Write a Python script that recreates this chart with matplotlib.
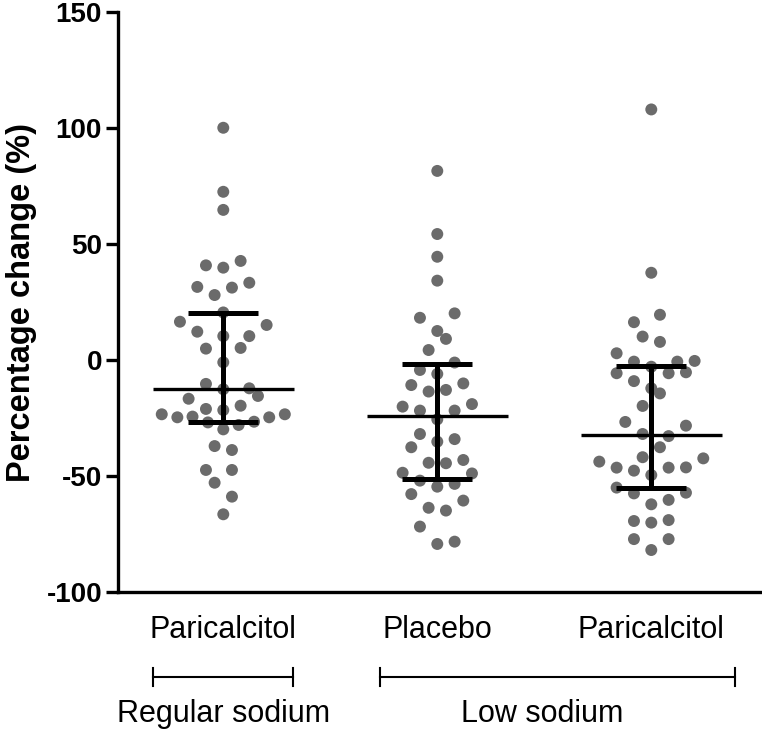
import matplotlib
matplotlib.use("Agg")
import matplotlib.pyplot as plt
import numpy as np

plt.rcParams["font.family"] = ["Liberation Sans", "DejaVu Sans"]

# values (% change), with swarm offsets in half-dot slots
GROUPS = ["Paricalcitol", "Placebo", "Paricalcitol"]

reg_pari = [100.1, 72.5, 64.7, 42.7, 40.8, 39.8, 33.3, 31.5, 31.2, 28.0, 20.5,
            16.5, 15.1, 12.2, 10.3, 10.3, 5.2, 4.9, -1.0, -10.3, -12.2, -12.6,
            -15.5, -16.7, -19.7, -21.1, -21.6, -23.4, -23.4, -24.4, -24.7, -24.7,
            -26.6, -26.9, -28.0, -29.9, -37.1, -38.8, -47.4, -47.4, -52.9, -58.9,
            -66.5]
reg_pari_swarm = [0, 0, 0, 2, -2, 0, 3, -3, 1, -1, 0, -5, 5, -3, 0, 3, 2, -2, 0,
                  -2, 3, 0, 4, -4, 2, -2, 0, -7.1, 7.1, -3.55, -5.3, 5.3, 3.55,
                  -1.77, 1.77, 0, -1, 1, -2, 1, -1, 1, 0]

low_plac = [81.5, 54.3, 44.5, 34.2, 20.1, 18.2, 12.5, 9.1, 4.3, -1.1, -4.3, -6.0,
            -10.1, -10.8, -12.9, -13.6, -19.0, -20.1, -21.8, -21.8, -25.6, -31.9,
            -34.1, -35.2, -37.6, -43.1, -44.3, -44.5, -48.6, -48.9, -52.0, -53.4,
            -54.6, -57.8, -60.6, -63.7, -64.9, -71.8, -78.3, -79.3]
low_plac_swarm = [0, 0, 0, 0, 2, -2, 0, 1, -1, 2, -2, 0, 3, -3, 1, -1, 4, -4, -2,
                  2, 0, -2, 2, 0, -3, 3, -1, 1, -4, 4, -2, 2, 0, -3, 3, -1, 1, -2,
                  2, 0]

low_pari = [108.0, 37.6, 19.5, 16.3, 10.1, 7.8, 2.9, -0.4, -0.7, -0.7, -2.9, -5.3,
            -5.7, -5.7, -9.1, -12.2, -14.4, -19.8, -26.7, -28.3, -31.9, -32.8,
            -37.6, -41.9, -42.4, -43.8, -46.3, -46.4, -46.4, -47.7, -49.6, -55.0,
            -57.2, -57.5, -60.3, -62.2, -69.0, -69.4, -70.1, -77.2, -77.2, -81.9]
low_pari_swarm = [0, 0, 1, -2, -1, 1, -4, 5, -2, 3, 0, 4, -4, 2, -2, 0, 1, -1, -3,
                  4, -1, 2, 1, -1, 6, -6, 4, -4, 2, -2, 0, -4, 4, -2, 2, 0, 2, -2,
                  0, -2, 2, 0]

# median and interquartile range
medians = [-12.6, -24.0, -32.3]
q_low = [-26.6, -51.3, -55.3]
q_high = [20.1, -1.9, -2.6]

Y_TICKS = [-100, -50, 0, 50, 100, 150]

SLOT = 0.0405
DOT_COLOR = "#6b6b6b"

fig = plt.figure(figsize=(7.62, 7.33), dpi=100)
ax = fig.add_axes([118 / 762, 141 / 733, 642 / 762, 580 / 733])

series = [(reg_pari, reg_pari_swarm), (low_plac, low_plac_swarm),
          (low_pari, low_pari_swarm)]
for i, (vals, swarm) in enumerate(series):
    xs = i + np.array(swarm) * SLOT
    ax.scatter(xs, vals, s=74, color=DOT_COLOR, edgecolors="none", zorder=2,
               clip_on=False)

xpos = np.arange(len(GROUPS))
med = np.array(medians)
ax.errorbar(xpos, med, yerr=[med - np.array(q_low), np.array(q_high) - med],
            fmt="none", ecolor="black", elinewidth=3.6, capsize=25,
            capthick=3.6, zorder=3)
ax.hlines(med, xpos - 0.33, xpos + 0.33, color="black", linewidth=2.4, zorder=3)

ax.set_xlim(-0.492, 2.508)
ax.set_ylim(-100, 150)
ax.set_yticks(Y_TICKS)
ax.set_yticklabels([str(t) for t in Y_TICKS], fontsize=20, fontweight="bold")
ax.tick_params(axis="y", length=8.5, width=2.4, pad=3)
ax.set_xticks([])

for side in ("top", "right"):
    ax.spines[side].set_visible(False)
for side in ("left", "bottom"):
    ax.spines[side].set_linewidth(2.4)

ax.set_ylabel("Percentage change (%)", fontsize=23.5, fontweight="bold")
ax.yaxis.label.set_va("center")
ax.yaxis.set_label_coords(-0.151, 0.5)

# category labels and sodium brackets under the axis
trans = ax.get_xaxis_transform()
for x, name in zip(xpos, GROUPS):
    ax.text(x, -0.0793, name, transform=trans, ha="center", va="baseline",
            fontsize=22)

brackets = [(-0.327, 0.327, 0.0, "Regular sodium"),
            (0.732, 2.391, 1.49, "Low sodium")]
for x0, x1, xc, label in brackets:
    ax.plot([x0, x1], [-0.1466, -0.1466], transform=trans, color="black",
            linewidth=1.5, clip_on=False)
    for xe in (x0, x1):
        ax.plot([xe, xe], [-0.1466 - 0.0155, -0.1466 + 0.0155], transform=trans,
                color="black", linewidth=1.5, clip_on=False)
    ax.text(xc, -0.2236, label, transform=trans, ha="center", va="baseline",
            fontsize=22)

fig.savefig("out.png", dpi=100)
